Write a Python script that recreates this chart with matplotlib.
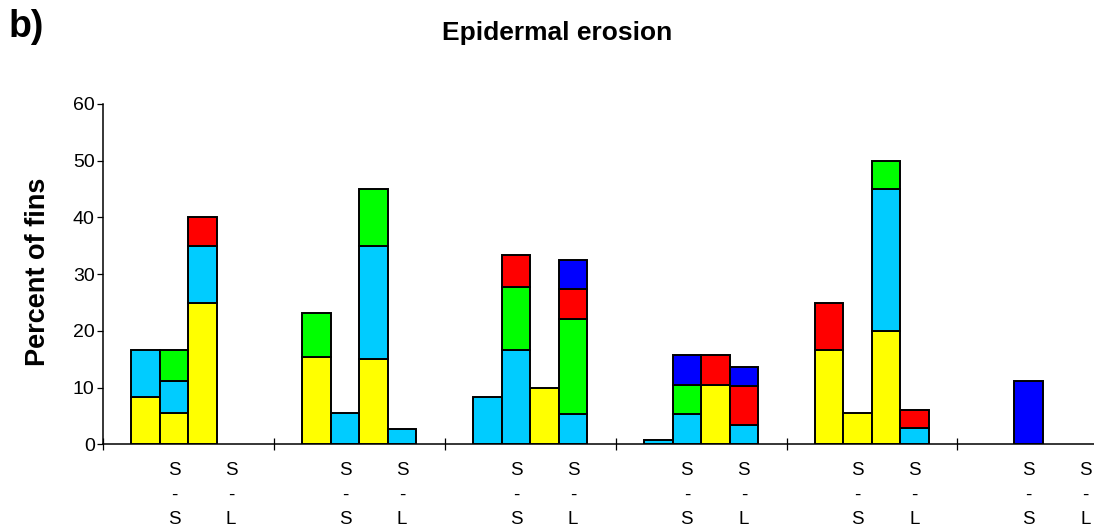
import numpy as np
import matplotlib
import matplotlib.pyplot as plt
from matplotlib.ticker import FixedLocator

matplotlib.rcParams['font.family'] = ['Liberation Sans', 'DejaVu Sans']

# 6 groups x 4 bars, values in percent of fins (bottom -> top stacking order)
yellow = [8.33, 5.56, 25, 0, 15.38, 0, 15, 0, 0, 0, 10, 0,
          0, 0, 10.5, 0, 16.67, 5.56, 20, 0, 0, 0, 0, 0]
cyan = [8.33, 5.56, 10, 0, 0, 5.56, 20, 2.78, 8.33, 16.67, 0, 5.26,
        0.8, 5.26, 0, 3.4, 0, 0, 25, 2.9, 0, 0, 0, 0]
green = [0, 5.56, 0, 0, 7.69, 0, 10, 0, 0, 11.11, 0, 16.8,
         0, 5.26, 0, 0, 0, 0, 5, 0, 0, 0, 0, 0]
red = [0, 0, 5, 0, 0, 0, 0, 0, 0, 5.56, 0, 5.3,
       0, 0, 5.3, 6.9, 8.33, 0, 0, 3.1, 0, 0, 0, 0]
blue = [0, 0, 0, 0, 0, 0, 0, 0, 0, 0, 0, 5.1,
        0, 5.26, 0, 3.4, 0, 0, 0, 0, 0, 11.1, 0, 0]

series = [yellow, cyan, green, red, blue]
colors = ['#FFFF00', '#00CCFF', '#00FF00', '#FF0000', '#0000FF']
tick_labels = ['S\n-\nS', 'S\n-\nL']
n_groups = 6

fig = plt.figure(figsize=(10.94, 5.32), dpi=100)
ax = fig.add_axes([103 / 1094, 87.7 / 532, 1025.3 / 1094, 340.3 / 532])

x = np.array([6 * g + 1.5 + b for g in range(n_groups) for b in range(4)])
bottom = np.zeros(len(x))
for vals, col in zip(series, colors):
    vals = np.array(vals, dtype=float)
    m = vals > 0
    ax.bar(x[m], vals[m], width=1.0, bottom=bottom[m], color=col,
           edgecolor='black', linewidth=1.4, zorder=3)
    bottom += vals

ax.set_xlim(0, 6 * n_groups)
ax.set_ylim(0, 60)
ax.set_yticks(range(0, 61, 10))
ax.tick_params(axis='y', direction='out', length=4, width=0.9, pad=2, labelsize=14)

ax.set_xticks(range(0, 6 * n_groups + 1, 6))
ax.set_xticklabels([])
ax.tick_params(axis='x', which='major', direction='inout', length=8, width=0.9)
lab_pos = [6 * g + p for g in range(n_groups) for p in (2.5, 4.5)]
ax.xaxis.set_minor_locator(FixedLocator(lab_pos))
ax.set_xticklabels(tick_labels * n_groups, minor=True, fontsize=13.5, linespacing=1.55)
ax.tick_params(axis='x', which='minor', length=0, pad=13)

for s in ['top', 'right']:
    ax.spines[s].set_visible(False)
for s in ['left', 'bottom']:
    ax.spines[s].set_linewidth(1.1)

fig.text(38 / 1094, 1 - 272 / 532, 'Percent of fins', rotation=90, fontsize=19.5,
         fontweight='bold', ha='center', va='center')
fig.text(557 / 1094, 1 - 40 / 532, 'Epidermal erosion', fontsize=19,
         fontweight='bold', ha='center', va='baseline')
fig.text(9 / 1094, 1 - 37 / 532, 'b)', fontsize=27, fontweight='bold',
         ha='left', va='baseline')

fig.savefig('out.png', dpi=100)
